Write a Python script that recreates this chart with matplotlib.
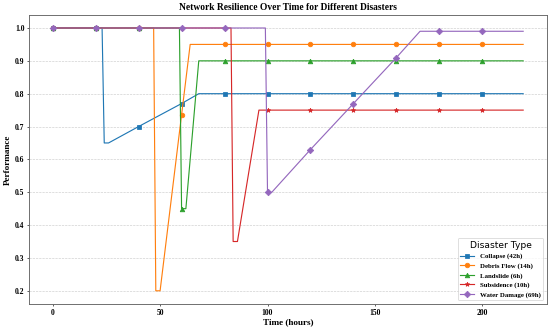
import matplotlib
matplotlib.use("Agg")
import matplotlib.pyplot as plt

# Key points (hours, performance), markers every 20 h
CollapseT = [0, 20, 23, 24, 26, 40, 60, 68, 80, 100, 120, 140, 160, 180, 200, 219]
CollapseP = [1.0, 1.0, 1.0, 0.65, 0.65, 0.70, 0.77, 0.80, 0.80, 0.80, 0.80, 0.80, 0.80, 0.80, 0.80, 0.80]

DebrisT = [0, 20, 40, 47, 48, 50, 60, 64, 80, 100, 120, 140, 160, 180, 200, 219]
DebrisP = [1.0, 1.0, 1.0, 1.0, 0.20, 0.20, 0.736, 0.95, 0.95, 0.95, 0.95, 0.95, 0.95, 0.95, 0.95, 0.95]

LandslideT = [0, 20, 40, 59, 60, 62, 68, 80, 100, 120, 140, 160, 180, 200, 219]
LandslideP = [1.0, 1.0, 1.0, 1.0, 0.45, 0.45, 0.90, 0.90, 0.90, 0.90, 0.90, 0.90, 0.90, 0.90, 0.90]

SubsidenceT = [0, 20, 40, 60, 80, 83, 84, 86, 96, 100, 120, 140, 160, 180, 200, 219]
SubsidenceP = [1.0, 1.0, 1.0, 1.0, 1.0, 1.0, 0.35, 0.35, 0.75, 0.75, 0.75, 0.75, 0.75, 0.75, 0.75, 0.75]

WaterT = [0, 20, 40, 60, 80, 99, 100, 102, 120, 140, 160, 171, 180, 200, 219]
WaterP = [1.0, 1.0, 1.0, 1.0, 1.0, 1.0, 0.50, 0.50, 0.63, 0.77, 0.91, 0.99, 0.99, 0.99, 0.99]

Labels = ["Collapse (42h)", "Debris Flow (14h)", "Landslide (6h)",
          "Subsidence (10h)", "Water Damage (69h)"]
Series = [(CollapseT, CollapseP), (DebrisT, DebrisP), (LandslideT, LandslideP),
          (SubsidenceT, SubsidenceP), (WaterT, WaterP)]
Markers = ["s", "o", "^", "*", "D"]

Serif = "Liberation Serif"

fig, ax = plt.subplots(figsize=(10, 6), dpi=55)
fig.subplots_adjust(left=0.053, right=0.994, top=0.955, bottom=0.079)

for (T, P), Lab, Mk in zip(Series, Labels, Markers):
    # markers only at the 20-hour sample points
    MarkIdx = [i for i, t in enumerate(T) if t % 20 == 0 and t <= 200]
    ax.plot(T, P, marker=Mk, markevery=MarkIdx, markersize=6, linewidth=1.5, label=Lab)

ax.set_title("Network Resilience Over Time for Different Disasters",
             fontsize=12.5, fontweight="bold", family=Serif)
ax.set_xlabel("Time (hours)", fontsize=12, fontweight="bold", family=Serif, labelpad=2)
ax.set_ylabel("Performance", fontsize=12, fontweight="bold", family=Serif, labelpad=4)

ax.set_xticks([0, 50, 100, 150, 200])
ax.set_yticks([0.2, 0.3, 0.4, 0.5, 0.6, 0.7, 0.8, 0.9, 1.0])
ax.tick_params(length=3, pad=3)
for lab in ax.get_xticklabels() + ax.get_yticklabels():
    lab.set_fontfamily(Serif)
    lab.set_fontweight("bold")
    lab.set_fontsize(10)

ax.grid(axis="y", linestyle="--", color="#cccccc", linewidth=0.8)
for s in ax.spines.values():
    s.set_color("#666666")
    s.set_linewidth(1.2)

leg = ax.legend(title="Disaster Type", loc="lower right", title_fontsize=12,
                prop={"family": Serif, "weight": "bold", "size": 9})

fig.savefig("out.png")
